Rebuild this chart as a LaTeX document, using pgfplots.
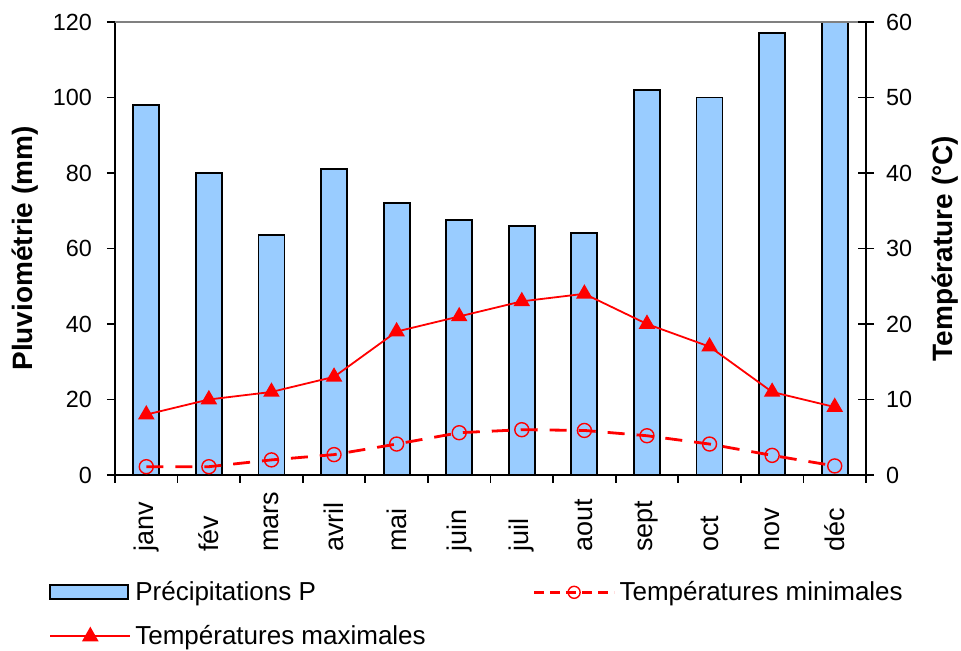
\documentclass[border=0pt]{standalone}
\usepackage{fontspec}
\setmainfont{Liberation Sans}
\usepackage{pgfplots}
\pgfplotsset{compat=1.18}
\definecolor{barblue}{RGB}{153,204,255}

% mois : 0 = janv ... 11 = déc
\pgfplotstableread{
x  P    tmin tmax
0  98   1.1  8
1  80   1.1  10
2  63.5 2.0  11
3  81   2.7  13
4  72   4.1  19
5  67.5 5.6  21
6  66   6.0  23
7  64   5.9  24
8  102  5.2  20
9  100  4.1  17
10 117  2.6  11
11 120  1.2  9
}\climat

\pgfplotsset{
  common/.style={
    scale only axis, width=375.5pt, height=226.5pt,
    xmin=-0.5, xmax=11.5,
    /pgf/number format/assume math mode=true,
    yticklabel style={font=\fontsize{11.7}{13}\selectfont},
    ylabel style={font=\fontsize{14}{16}\selectfont\bfseries},
    x axis line style={-}, y axis line style={-},
    axis line style={black, line width=0.9pt},
    tick style={black, line width=0.9pt},
  },
  legbar/.style={legend image code/.code={
    \draw[fill=barblue, draw=black, line width=0.9pt] (0pt,-3.5pt) rectangle (39pt,3.5pt);}},
  legmin/.style={legend image code/.code={
    \draw[red, line width=1.4pt, dash pattern=on 5pt off 3pt] (0pt,0pt) -- (40pt,0pt);
    \draw[red, line width=0.7pt, solid] (20pt,0pt) circle (3pt);}},
  legmax/.style={legend image code/.code={
    \draw[red, line width=1pt, solid] (0pt,0pt) -- (40pt,0pt);
    \fill[red] (20pt,4pt) -- (16.6pt,-2pt) -- (23.4pt,-2pt) -- cycle;}},
}

\begin{document}
\begin{tikzpicture}
\begin{axis}[
  common,
  ymin=0, ymax=120,
  axis x line*=bottom, axis y line*=left,
  ytick={0,20,...,120},
  xtick={0,...,11},
  xticklabels={janv,fév,mars,avril,mai,juin,juil,aout,sept,oct,nov,déc},
  major x tick style={draw=none},
  minor xtick={-0.5,0.5,...,11.5},
  tick align=outside,
  major tick length=4pt, minor tick length=4pt,
  xticklabel style={rotate=90, anchor=west, font=\fontsize{13.5}{15}\selectfont},
  xticklabel shift=38pt,
  yticklabel shift=4pt,
  ylabel={Pluviométrie (mm)},
  ylabel style={at={(axis description cs:-0.12,0.5)}, anchor=center},
]
\addplot[ybar, bar width=13pt, fill=barblue, draw=black, line width=0.9pt] table[x=x, y=P] {\climat};
\draw[gray, line width=0.9pt] (rel axis cs:0,1) -- (rel axis cs:1,1);
\end{axis}

\begin{axis}[
  common,
  ymin=0, ymax=60,
  axis y line*=right, axis x line=none,
  ytick={0,10,...,60},
  tick align=center, major tick length=8pt,
  yticklabel shift=2.5pt,
  ylabel={Température (°C)},
  ylabel style={at={(axis description cs:1.105,0.5)}, anchor=center, rotate=0},
  legend columns=2,
  legend cell align=left,
  legend style={at={(axis description cs:-0.096,-0.216)}, anchor=north west,
    draw=none, fill=none, font=\fontsize{13}{15}\selectfont,
    row sep=7pt, /tikz/column 2/.style={column sep=51.5pt}},
]
\addlegendimage{legbar}
\addlegendentry{Précipitations P}
\addplot[red, line width=1.4pt, dash pattern=on 8.5pt off 6pt, mark=o,
  mark options={solid, line width=0.7pt, fill=none}, mark size=3.5pt, legmin]
  table[x=x, y=tmin] {\climat};
\addlegendentry{Températures minimales}
\addplot[red, line width=0.9pt, mark=triangle*, mark size=3.9pt, mark options={solid}, legmax]
  table[x=x, y=tmax] {\climat};
\addlegendentry{Températures maximales}
\end{axis}
\pgfresetboundingbox
\path (-57.5pt,-88pt) rectangle (423pt,237.5pt);
\end{tikzpicture}
\end{document}
